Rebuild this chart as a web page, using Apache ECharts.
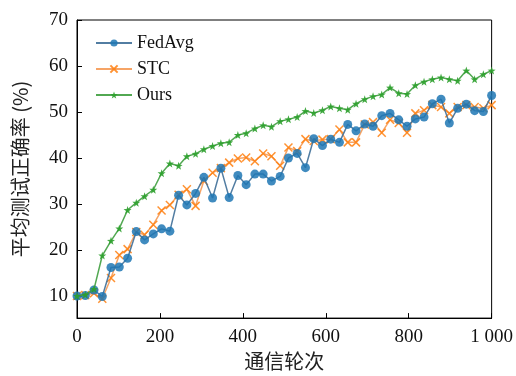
<!DOCTYPE html>
<html>
<head>
<meta charset="utf-8">
<script src="https://cdn.jsdelivr.net/npm/echarts@6/dist/echarts.min.js"></script>
<style>
  html, body { margin: 0; padding: 0; background: #fff; }
  #chart { width: 516px; height: 376px; }
</style>
</head>
<body>
<div id="chart"></div>
<script>
// communication rounds (50 evaluation points between 0 and 1000)
var rounds = [0, 20, 41, 61, 82, 102, 122, 143, 163, 184, 204, 224, 245, 265, 286, 306, 327, 347, 367, 388,
  408, 429, 449, 469, 490, 510, 531, 551, 571, 592, 612, 633, 653, 673, 694, 714, 735, 755, 776, 796,
  816, 837, 857, 878, 898, 918, 939, 959, 980, 1000];

var fedavg = [10.0, 10.1, 11.3, 9.9, 16.2, 16.3, 18.2, 24.0, 22.2, 23.5, 24.6, 24.1, 31.9, 29.8, 32.3, 35.8, 31.3, 37.8, 31.4, 36.2,
  34.2, 36.5, 36.5, 35.0, 36.0, 40.0, 41.0, 37.9, 44.2, 42.7, 44.1, 43.4, 47.3, 45.9, 47.4, 46.9, 49.2, 49.7, 48.3, 46.9,
  48.5, 48.9, 51.8, 52.8, 47.6, 50.8, 51.7, 50.3, 50.1, 53.6];

var stc = [10.0, 10.2, 10.6, 9.4, 13.9, 18.9, 20.2, 23.9, 23.3, 25.5, 28.6, 29.8, 32.0, 33.2, 29.6, 35.0, 36.8, 37.8, 39.0, 39.9,
  40.1, 39.3, 41.0, 40.4, 38.3, 42.3, 41.5, 44.1, 43.7, 44.0, 44.1, 46.2, 43.4, 43.4, 47.3, 47.8, 45.5, 48.3, 47.6, 45.5,
  49.7, 50.4, 51.5, 51.1, 49.7, 51.1, 51.5, 51.1, 50.8, 51.5];

var ours = [10.0, 10.3, 11.5, 18.8, 22.0, 24.7, 28.7, 30.3, 31.7, 33.1, 36.7, 38.8, 38.3, 40.4, 40.9, 41.9, 42.6, 43.2, 43.4, 45.0,
  45.4, 46.4, 47.1, 46.8, 48.0, 48.4, 48.9, 50.2, 49.8, 50.4, 51.2, 50.8, 50.5, 51.8, 52.8, 53.4, 53.8, 55.3, 54.1, 53.9,
  55.8, 56.6, 57.1, 57.5, 57.1, 56.8, 59.0, 57.1, 58.2, 59.0];

var seriesNames = ['FedAvg', 'STC', 'Ours'];
var xTicks = [0, 200, 400, 600, 800, 1000];
var yTicks = [10, 20, 30, 40, 50, 60, 70];

function pairs(ys) {
  return rounds.map(function (r, i) { return [r, ys[i]]; });
}

var serif = '"Liberation Serif", "DejaVu Serif", serif';
var cjk = '"Noto Sans CJK SC", sans-serif';

var crossPath = 'path://M0,0L10,10M10,0L0,10';
var starPath = 'path://M5,0L6.2,3.6L10,3.7L7,6L8.1,9.6L5,7.5L1.9,9.6L3,6L0,3.7L3.8,3.6Z';

var chart = echarts.init(document.getElementById('chart'), null, { renderer: 'canvas' });

chart.setOption({
  animation: false,
  backgroundColor: '#fff',
  grid: {
    left: 77, right: 23, top: 20, bottom: 49,
    show: true, borderColor: '#000', borderWidth: 1
  },
  legend: {
    orient: 'vertical',
    left: 90, top: 29,
    itemWidth: 36, itemHeight: 9, itemGap: 8,
    data: seriesNames,
    textStyle: { fontFamily: serif, fontSize: 18, color: '#111' }
  },
  xAxis: {
    type: 'value',
    min: xTicks[0], max: xTicks[xTicks.length - 1], interval: 200,
    name: '通信轮次',
    nameLocation: 'middle', nameGap: 32,
    nameTextStyle: { fontFamily: cjk, fontSize: 20, color: '#222' },
    axisLine: { show: true, lineStyle: { color: '#000', width: 1 } },
    axisTick: { show: true, inside: true, length: 5, lineStyle: { color: '#000' } },
    axisLabel: {
      margin: 9, fontFamily: serif, fontSize: 19, color: '#111',
      formatter: function (v) { return String(v).replace(/\B(?=(\d{3})+(?!\d))/g, ' '); }
    },
    splitLine: { show: false }
  },
  yAxis: {
    type: 'value',
    min: 5.2, max: yTicks[yTicks.length - 1], splitNumber: 6,
    name: '平均测试正确率 (%)',
    nameLocation: 'middle', nameGap: 47,
    nameTextStyle: { fontFamily: cjk, fontSize: 20, color: '#222' },
    axisLine: { show: true, lineStyle: { color: '#000', width: 1 } },
    axisTick: { show: true, inside: true, length: 5, lineStyle: { color: '#000' } },
    axisLabel: { margin: 9, fontFamily: serif, fontSize: 19, color: '#111', showMinLabel: false },
    splitLine: { show: false }
  },
  series: [
    {
      name: 'FedAvg', type: 'line', data: pairs(fedavg),
      symbol: 'circle', symbolSize: 9,
      itemStyle: { color: '#1f77b4', opacity: 0.85 },
      lineStyle: { color: '#3f6f98', width: 1.5, opacity: 0.9 },
      z: 3
    },
    {
      name: 'STC', type: 'line', data: pairs(stc),
      symbol: crossPath, symbolSize: 8,
      itemStyle: { color: 'rgba(0,0,0,0)', borderColor: '#ff7f0e', borderWidth: 1.5, opacity: 0.85 },
      lineStyle: { color: '#f59a55', width: 1.5, opacity: 0.9 },
      z: 2
    },
    {
      name: 'Ours', type: 'line', data: pairs(ours),
      symbol: starPath, symbolSize: 8,
      itemStyle: { color: '#2ca02c', opacity: 0.9 },
      lineStyle: { color: '#3f9f3f', width: 1.5, opacity: 0.9 },
      z: 4
    }
  ]
});
</script>
</body>
</html>
